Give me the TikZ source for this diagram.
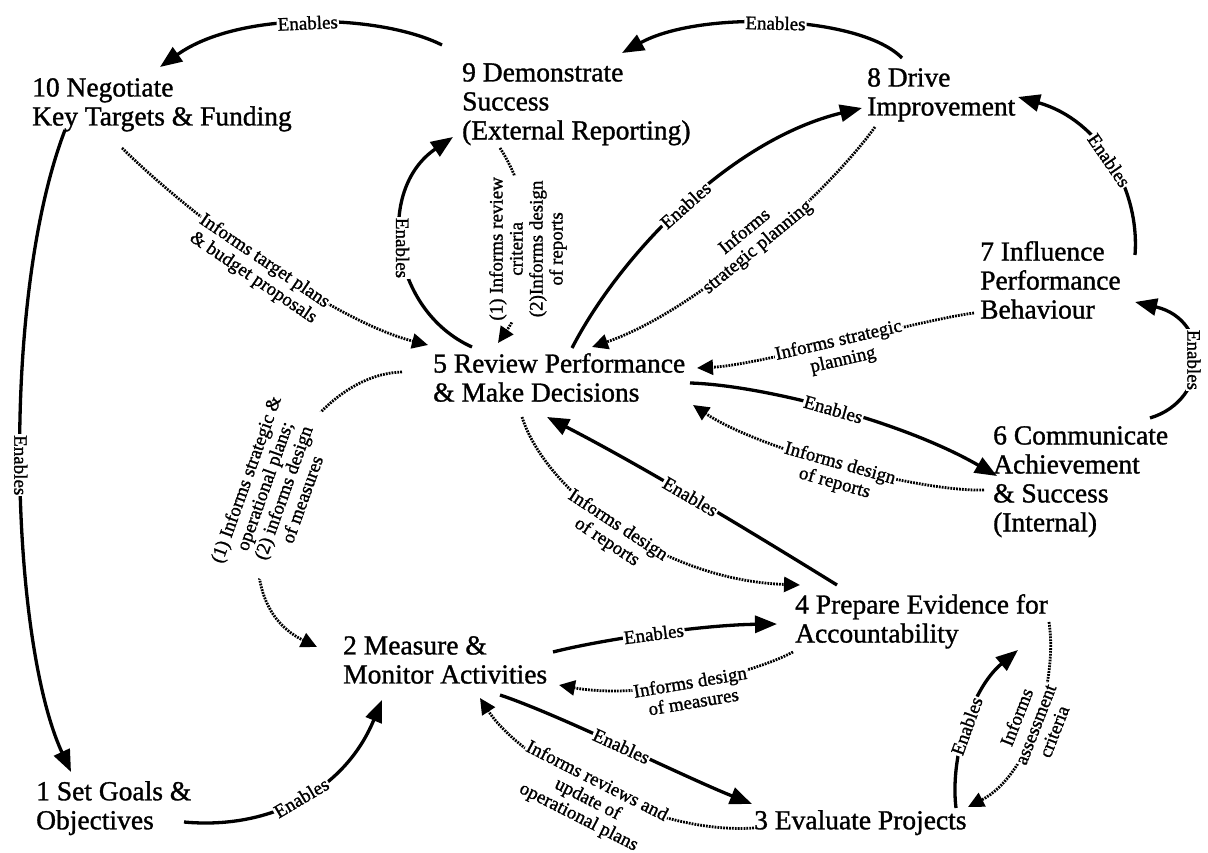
\documentclass[tikz,border=0pt]{standalone}
\usepackage{fontspec}
\setmainfont{Liberation Serif}[UprightFeatures={FakeBold=1.2}]
\usetikzlibrary{arrows.meta}
\begin{document}
\begin{tikzpicture}[x=1pt,y=-1pt,
  proc/.style={anchor=north west, inner sep=0pt, align=left,
    font=\fontsize{27.5}{29}\selectfont},
  en/.style={line width=3.3pt, -{Triangle[length=22pt,width=17pt]}},
  inf/.style={line width=2.8pt, dash pattern=on 1.8pt off 1.1pt,
    -{Triangle[length=16pt,width=15pt]}},
  lab/.style={font=\fontsize{19}{20}\selectfont, fill=white, inner sep=1pt, align=center}]
\useasboundingbox (0,0) rectangle (1208,853);

% process steps
\node[proc] (n10) at (32,78)  {10 Negotiate\\Key Targets \& Funding};
\node[proc] (n9)  at (462,63) {9 Demonstrate\\Success\\(External Reporting)};
\node[proc] (n8)  at (867,68) {8 Drive\\Improvement};
\node[proc] (n7)  at (980,241) {7 Influence\\Performance\\Behaviour};
\node[proc] (n6)  at (993,426) {6 Communicate\\Achievement\\\& Success\\(Internal)};
\node[proc] (n5)  at (433,353) {5 Review Performance\\\& Make Decisions};
\node[proc] (n4)  at (795,594) {4 Prepare Evidence for\\Accountability};
\node[proc] (n3)  at (754,810) {3 Evaluate Projects};
\node[proc] (n2)  at (343,636) {2 Measure \&\\Monitor Activities};
\node[proc] (n1)  at (36,781)  {1 Set Goals \&\\Objectives};

% "Enables" links
\draw[en] ([shift={(-20,-18)}]n9.north west) .. controls (380,14) and (240,10) ..
  node[lab, sloped, pos=0.5] {Enables} ([shift={(128,-11)}]n10.north west);
\draw[en] ([shift={(35,-10)}]n8.north west) .. controls (860,15) and (700,10) ..
  node[lab, sloped, pos=0.5] {Enables} ([shift={(160,-10)}]n9.north west);
\draw[en] ([shift={(155,14)}]n7.north west) .. controls (1140,190) and (1100,120) ..
  node[lab, sloped, pos=0.5] {Enables} ([shift={(151,29)}]n8.north west);
\draw[en] ([shift={(157,-8)}]n6.north west) .. controls (1210,400) and (1212,320) ..
  node[lab, rotate=-90, pos=0.5] {Enables} ([shift={(155,61)}]n7.north west);
\draw[en] ([shift={(257,30)}]n5.north west) .. controls (760,385) and (900,420) ..
  node[lab, sloped, pos=0.5] {Enables} ([shift={(4,50)}]n6.north west);
\draw[en] ([shift={(42,-9)}]n4.north west) .. controls (740,525) and (640,465) ..
  node[lab, sloped, pos=0.5] {Enables} ([shift={(114,64)}]n5.north west);
\draw[en] ([shift={(210,16)}]n2.north west) .. controls (600,640) and (700,625) ..
  node[lab, sloped, pos=0.5] {Enables} ([shift={(-18,30)}]n4.north west);
\draw[en] ([shift={(157,59)}]n2.north west) .. controls (560,715) and (680,775) ..
  node[lab, sloped, pos=0.5] {Enables} ([shift={(-2,-6)}]n3.north west);
\draw[en] ([shift={(202,-2)}]n3.north west) .. controls (950,760) and (970,690) ..
  node[lab, sloped, pos=0.5] {Enables} ([shift={(223,56)}]n4.north west);
\draw[en] ([shift={(148,41)}]n1.north west) .. controls (270,830) and (345,790) ..
  node[lab, sloped, pos=0.5] {Enables} ([shift={(39,64)}]n2.north west);
\draw[en] ([shift={(33,52)}]n10.north west) .. controls (0,300) and (10,640) ..
  node[lab, rotate=-90, pos=0.5] {Enables} ([shift={(35,-9)}]n1.north west);
\draw[en] ([shift={(39,-6)}]n5.north west) .. controls (390,310) and (375,190) ..
  node[lab, rotate=-90, pos=0.5] {Enables} ([shift={(-9,74)}]n9.north west);
\draw[en] ([shift={(139,-5)}]n5.north west) .. controls (620,255) and (730,140) ..
  node[lab, sloped, pos=0.5] {Enables} ([shift={(-5,40)}]n8.north west);

% "Informs" links
\draw[inf] ([shift={(90,70)}]n10.north west) .. controls (190,215) and (330,320) ..
  node[lab, sloped, pos=0.5, yshift=-9pt] {Informs target plans\\\& budget proposals} ([shift={(-5,-8)}]n5.north west);
\draw[inf] ([shift={(38,85)}]n9.north west) .. controls (540,210) and (535,290) ..
  node[lab, rotate=90, pos=0.5] {(1) Informs review\\criteria\\(2)Informs design\\of reports} ([shift={(65,-10)}]n5.north west);
\draw[inf] ([shift={(8,59)}]n8.north west) .. controls (830,190) and (700,310) ..
  node[lab, sloped, pos=0.5, yshift=9pt] {Informs\\strategic planning} ([shift={(159,-6)}]n5.north west);
\draw[inf] ([shift={(-6,72)}]n7.north west) .. controls (920,320) and (760,365) ..
  node[lab, sloped, pos=0.5, yshift=-9pt] {Informs strategic\\planning} ([shift={(264,15)}]n5.north west);
\draw[inf] ([shift={(-9,64)}]n6.north west) .. controls (920,492) and (760,450) ..
  node[lab, sloped, pos=0.5, yshift=-9pt] {Informs design\\of reports} ([shift={(260,52)}]n5.north west);
\draw[inf] ([shift={(89,64)}]n5.north west) .. controls (545,490) and (660,580) ..
  node[lab, sloped, pos=0.5, yshift=-9pt] {Informs design\\of reports} ([shift={(5,-9)}]n4.north west);
\draw[inf] ([shift={(-2,58)}]n4.north west) .. controls (750,675) and (640,700) ..
  node[lab, sloped, pos=0.5, yshift=-9pt] {Informs design\\of measures} ([shift={(216,49)}]n2.north west);
\draw[inf] ([shift={(-31,19)}]n5.north west) .. controls (290,375) and (200,590) ..
  node[lab, sloped, pos=0.5] {(1) Informs strategic \&\\operational plans;\\(2) informs design\\of measures} ([shift={(-26,11)}]n2.north west);
\draw[inf] ([shift={(0,18)}]n3.north west) .. controls (650,835) and (520,760) ..
  node[lab, sloped, pos=0.5, yshift=-12pt] {Informs reviews and\\update of\\operational plans} ([shift={(137,62)}]n2.north west);
\draw[inf] ([shift={(254,28)}]n4.north west) .. controls (1058,680) and (1030,775) ..
  node[lab, sloped, pos=0.5] {Informs\\assessment\\criteria} ([shift={(214,-3)}]n3.north west);
\end{tikzpicture}
\end{document}
